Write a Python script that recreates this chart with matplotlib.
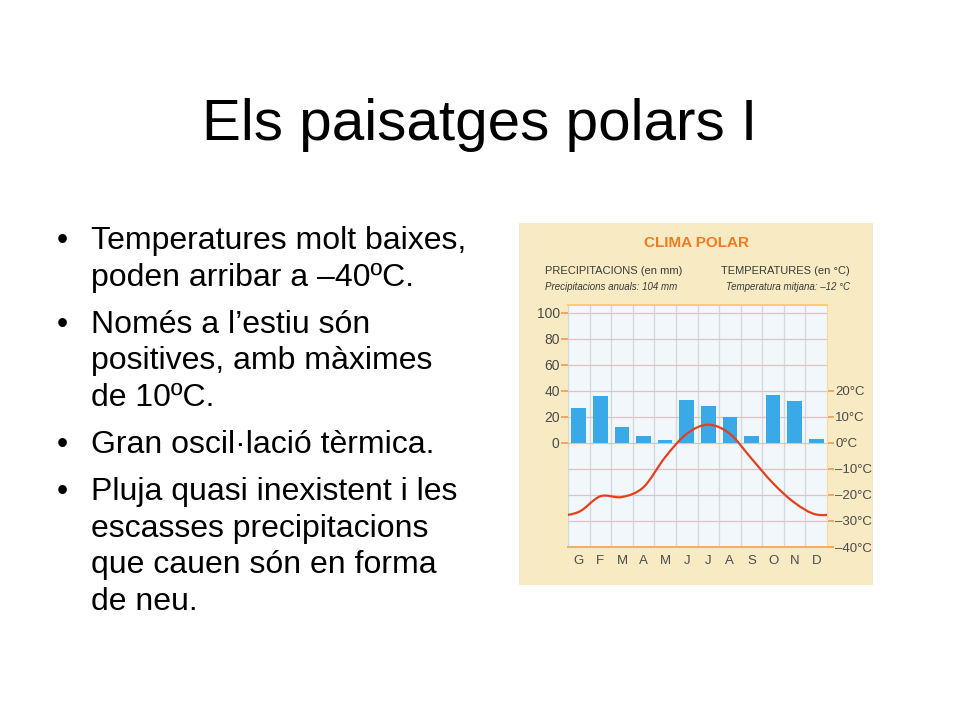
import matplotlib
matplotlib.use('Agg')
from matplotlib import pyplot as plt
from matplotlib.path import Path
from matplotlib.patches import PathPatch, Rectangle

plt.rcParams['font.family'] = ['Liberation Sans', 'DejaVu Sans']

# climate data (polar)
months = ['G', 'F', 'M', 'A', 'M', 'J', 'J', 'A', 'S', 'O', 'N', 'D']
precip_mm = [27, 36, 12.5, 5, 2, 33, 28, 20, 5, 37, 32.5, 3]
temp_c = [-26.5, -20.5, -20.8, -17, -5.5, 3.5, 7, 3.5, -6, -15.5, -23, -27.5]

mm_ticks = [0, 20, 40, 60, 80, 100]
temp_ticks = [20, 10, 0, -10, -20, -30, -40]

bullets = [
    ['Temperatures molt baixes,', 'poden arribar a \u201340\u00baC.'],
    ['Nom\u00e9s a l\u2019estiu s\u00f3n', 'positives, amb m\u00e0ximes', 'de 10\u00baC.'],
    ['Gran oscil\u00b7laci\u00f3 t\u00e8rmica.'],
    ['Pluja quasi inexistent i les', 'escasses precipitacions',
     'que cauen s\u00f3n en forma', 'de neu.'],
]

W, H = 960, 720
fig = plt.figure(figsize=(9.6, 7.2), dpi=100)
fig.patch.set_facecolor('white')


def fx(px):
    return px / W


def fy(py):
    return 1 - py / H


# slide title
fig.text(0.5, fy(140), 'Els paisatges polars I', ha='center', va='baseline',
         fontsize=42, color='black')

# bullet list
line_h = 36.8
gap = 10
y = 249
for item in bullets:
    fig.text(fx(57), fy(y), '\u2022', ha='left', va='baseline', fontsize=23)
    for line in item:
        fig.text(fx(91), fy(y), line, ha='left', va='baseline', fontsize=23)
        y += line_h
    y += gap

# chart panel background
panel = Rectangle((fx(519), fy(585)), fx(873) - fx(519), fy(223) - fy(585),
                  transform=fig.transFigure, facecolor='#f8ebc3',
                  edgecolor='none', zorder=-1)
fig.patches.append(panel)

cond = ['Liberation Sans Narrow', 'Liberation Sans', 'DejaVu Sans']
fig.text(fx(696), fy(243), 'CLIMA POLAR', ha='center', va='center',
         fontsize=11, fontweight='bold', color='#f27a1f', family=cond)
fig.text(fx(545), fy(271), 'PRECIPITACIONS (en mm)', ha='left', va='center',
         fontsize=8, color='#3a3a3a', family=cond)
fig.text(fx(545), fy(287), 'Precipitacions anuals: 104 mm', ha='left',
         va='center', fontsize=7, style='italic', color='#3a3a3a', family=cond)
fig.text(fx(850), fy(271), 'TEMPERATURES (en \u00b0C)', ha='right', va='center',
         fontsize=8, color='#3a3a3a', family=cond)
fig.text(fx(850), fy(287), 'Temperatura mitjana: \u201312 \u00b0C', ha='right',
         va='center', fontsize=7, style='italic', color='#3a3a3a', family=cond)

# climate plot (precip in mm, temperature drawn at 2 mm per degree)
ax = fig.add_axes([fx(568), fy(547), fx(827) - fx(568), fy(305) - fy(547)])
ax.set_facecolor('#f2f7fb')
x = list(range(1, 13))
ax.set_xlim(0.5, 12.5)
ax.set_ylim(-80, 106)

for b in [i + 0.5 for i in range(12)]:
    ax.axvline(b, color='#d3d6e0', linewidth=0.9, zorder=1)
for h in [20, 40, 60, 80, 100, -20, -40, -60]:
    ax.axhline(h, color='#dcc4c4', linewidth=0.9, zorder=1)
ax.axhline(0, color='#f2c28a', linewidth=0.9, zorder=1)

ax.bar(x, precip_mm, width=0.68, color='#3aa9e8', zorder=2)

# smooth temperature curve (wraps Dec -> Jan)
tx = [-1, 0] + x + [13, 14]
ty = [temp_c[-2], temp_c[-1]] + temp_c + [temp_c[0], temp_c[1]]
ty = [2 * t for t in ty]
verts = [(tx[1], ty[1])]
codes = [Path.MOVETO]
for i in range(1, len(tx) - 2):
    c1 = (tx[i] + (tx[i + 1] - tx[i - 1]) / 6, ty[i] + (ty[i + 1] - ty[i - 1]) / 6)
    c2 = (tx[i + 1] - (tx[i + 2] - tx[i]) / 6, ty[i + 1] - (ty[i + 2] - ty[i]) / 6)
    verts += [c1, c2, (tx[i + 1], ty[i + 1])]
    codes += [Path.CURVE4] * 3
ax.add_patch(PathPatch(Path(verts, codes), facecolor='none',
                       edgecolor='#e5401e', linewidth=1.6, zorder=3))

for side in ['left', 'bottom']:
    ax.spines[side].set_visible(False)
ax.spines['top'].set_color('#f6c66a')
ax.spines['right'].set_color('#f6d8a0')
ax.spines['top'].set_linewidth(1.2)
ax.axhline(-80, color='#f0b060', linewidth=1.4, zorder=4, clip_on=False)

ax.set_yticks(mm_ticks)
ax.set_yticklabels([str(v) for v in mm_ticks], family=cond, fontsize=10,
                   color='#4a4a4a')
ax.tick_params(axis='y', length=5, width=1.2, color='#f29a50', pad=1)
ax.set_xticks(x)
ax.set_xticklabels(months, family=cond, fontsize=9.5, color='#4a4a4a')
ax.tick_params(axis='x', length=0, pad=6)

sec = ax.secondary_yaxis('right', functions=(lambda v: v / 2, lambda v: v * 2))
sec.set_yticks(temp_ticks)
sec.set_yticklabels([('\u2013' if t < 0 else '') + str(abs(t)) + '\u00b0C'
                     for t in temp_ticks], family=cond, fontsize=9.5,
                    color='#4a4a4a')
sec.tick_params(length=5, width=1.2, color='#f29a50', pad=1)
sec.spines['right'].set_visible(False)

fig.savefig('out.png', dpi=100, facecolor='white')
